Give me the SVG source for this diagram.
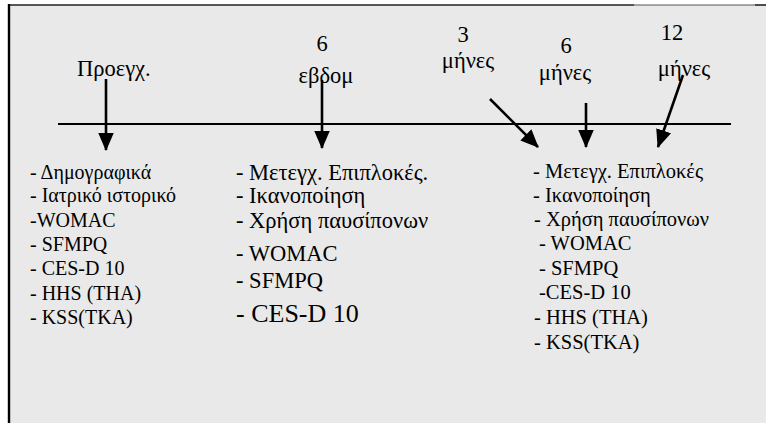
<svg xmlns="http://www.w3.org/2000/svg" width="766" height="423" viewBox="0 0 766 423">
<defs>
<marker id="ah" markerWidth="7" markerHeight="6" refX="6.6" refY="3" orient="auto" markerUnits="strokeWidth">
<path d="M0,0 L7,3 L0,6 Z" fill="#000"/>
</marker>
<style>
text{font-family:'Liberation Serif','Times New Roman','DejaVu Serif',serif;fill:#000}
.s{font-size:20px}
.m{font-size:22.5px}
.r{font-size:20.5px}
.h{font-size:22.5px}
.c{stroke:#000;stroke-width:2.6;fill:none;marker-end:url(#ah)}
</style>
</defs>
<rect x="0" y="0" width="766" height="423" fill="#fff"/>
<rect x="8" y="5" width="758" height="418" fill="#e9e9e9"/>
<g id="frame">
<line x1="8" y1="5" x2="634" y2="5" stroke="#222" stroke-width="1.6"/>
<line x1="634" y1="5" x2="755" y2="5" stroke="#555" stroke-width="1"/>
<line x1="755" y1="5" x2="766" y2="5" stroke="#222" stroke-width="1.6"/>
<line x1="9" y1="4" x2="9" y2="423" stroke="#000" stroke-width="2.4"/>
</g>
<g id="timeline">
<line x1="58" y1="124" x2="731" y2="124" stroke="#000" stroke-width="2"/>
</g>
<g id="connectors">
<line class="c" x1="106" y1="79" x2="106" y2="150"/>
<line class="c" x1="322" y1="80" x2="322" y2="148"/>
<line class="c" x1="490" y1="99" x2="538" y2="147"/>
<line class="c" x1="586" y1="103" x2="586" y2="147"/>
<line class="c" x1="683" y1="75" x2="658" y2="147"/>
</g>
<g id="label-preop">
<text class="h" x="77" y="76">Προεγχ.</text>
</g>
<g id="label-6w">
<text class="h" x="322" y="51" text-anchor="middle">6</text>
<text class="h" x="326" y="83" text-anchor="middle">εβδομ</text>
</g>
<g id="label-3m">
<text class="h" x="463" y="42" text-anchor="middle">3</text>
<text class="h" x="468" y="68" text-anchor="middle">μήνες</text>
</g>
<g id="label-6m">
<text class="h" x="566" y="53" text-anchor="middle">6</text>
<text class="h" x="565" y="80" text-anchor="middle">μήνες</text>
</g>
<g id="label-12m">
<text class="h" x="672" y="40" text-anchor="middle">12</text>
<text class="h" x="684" y="76" text-anchor="middle">μήνες</text>
</g>
<g id="list-preop">
<text class="s" x="30" y="179">- Δημογραφικά</text>
<text class="s" x="30" y="202">- Ιατρικό ιστορικό</text>
<text class="s" x="30" y="227">-WOMAC</text>
<text class="s" x="30" y="251">- SFMPQ</text>
<text class="s" x="30" y="275">- CES-D 10</text>
<text class="s" x="30" y="300">- HHS (THA)</text>
<text class="s" x="30" y="324">- KSS(TKA)</text>
</g>
<g id="list-6w">
<text class="m" x="236" y="180">- Μετεγχ. Επιπλοκές.</text>
<text class="m" x="236" y="203">- Ικανοποίηση</text>
<text class="m" x="236" y="228">- Χρήση παυσίπονων</text>
<text class="m" x="236" y="261">- WOMAC</text>
<text class="m" x="236" y="288">- SFMPQ</text>
<text style="font-size:26px" x="236" y="322">- CES-D 10</text>
</g>
<g id="list-months">
<text class="r" x="533" y="178">- Μετεγχ. Επιπλοκές</text>
<text class="r" x="533" y="202">- Ικανοποίηση</text>
<text class="r" x="534" y="226">- Χρήση παυσίπονων</text>
<text class="r" x="539" y="250"> - WOMAC</text>
<text class="r" x="539" y="275"> - SFMPQ</text>
<text class="r" x="539" y="299">-CES-D 10</text>
<text class="r" x="534" y="324">- HHS (THA)</text>
<text class="r" x="534" y="349">- KSS(TKA)</text>
</g>
</svg>
